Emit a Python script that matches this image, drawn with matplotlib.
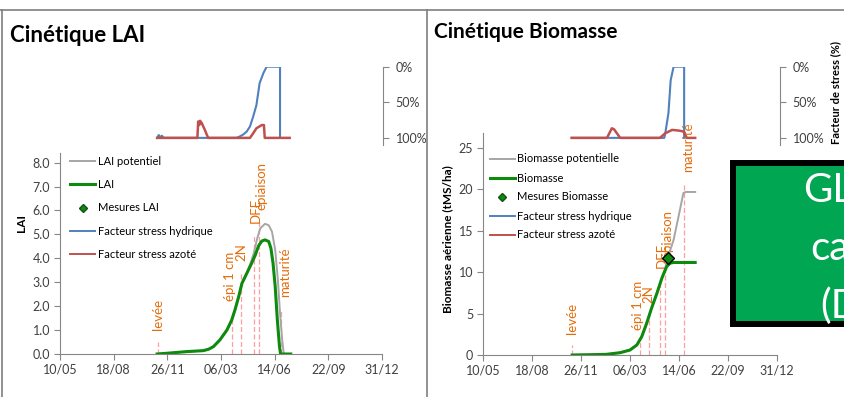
import matplotlib.pyplot as plt
from matplotlib.lines import Line2D
from matplotlib.patches import Rectangle

W, H = 845, 397

plt.rcParams['font.family'] = ['Lato', 'DejaVu Sans']

GRAY = "#A6A6A6"
GREEN = "#0E8A0E"
BLUE = "#4F81BD"
RED = "#C0504D"
ORANGE = "#E46C0A"
PINK = "#FF9E9E"
AXIS_GRAY = "#868686"
TEXT_GRAY = "#404040"

# x axis: days counted from 10/05 of the sowing year
date_ticks = [0, 100, 200, 300, 400, 500, 600]
date_labels = ["10/05", "18/08", "26/11", "06/03", "14/06", "22/09", "31/12"]

# phenological stages (day, and height of the marker line in each panel)
stage_names = ["levée", "épi 1 cm", "2N", "DFE", "épiaison", "maturité"]
stage_days = [182, 320, 338, 362, 371, 411]
stage_top_lai = [0.52, 1.7, 3.37, 4.97, 5.5, 1.9]
stage_top_bio = [1.15, 1.6, 4.8, 9.05, 10.25, 20.6]

# LAI
lai_days = [181, 199, 236, 267, 277, 286, 298, 311, 320, 326, 333, 339, 348,
            357, 364, 370, 376, 382, 389, 393, 397, 401, 405, 409, 411, 430]
lai = [0, 0.03, 0.10, 0.14, 0.20, 0.31, 0.59, 1.00, 1.42, 1.84, 2.40, 2.95, 3.37,
       3.79, 4.14, 4.52, 4.72, 4.77, 4.70, 4.42, 3.79, 2.82, 1.42, 0.31, 0, 0]
lai_pot_days = [181, 199, 236, 267, 277, 286, 298, 311, 320, 326, 333, 339, 348,
                354, 361, 367, 373, 382, 389, 395, 401, 406, 410, 414, 417, 430]
lai_pot = [0, 0.03, 0.10, 0.14, 0.20, 0.31, 0.59, 1.00, 1.42, 1.84, 2.40, 2.95, 3.37,
           3.72, 4.21, 4.79, 5.25, 5.44, 5.38, 5.11, 4.35, 3.09, 1.70, 0.59, 0, 0]

# aerial biomass (tMS/ha)
bio_days = [182, 225, 252, 280, 300, 314, 324, 334, 344, 355, 365, 375, 382, 389, 433]
bio = [0, 0.04, 0.08, 0.28, 0.60, 1.21, 2.22, 3.83, 5.65, 7.46, 9.27, 10.69, 11.09,
       11.17, 11.17]
bio_pot_days = [182, 225, 252, 280, 300, 314, 324, 334, 344, 355, 365, 371, 378,
                389, 399, 409, 414, 433]
bio_pot = [0, 0.04, 0.08, 0.28, 0.60, 1.21, 2.22, 3.83, 5.65, 7.46, 9.27, 10.3, 11.9,
           13.9, 16.7, 19.56, 19.68, 19.68]
bio_meas_days = [378]
bio_meas = [11.7]

# stress factors in % (100 % = no stress)
water_days_lai = [181, 184, 187, 190, 193, 329, 335, 342, 348, 354, 360, 366, 372,
                  379, 385, 410, 410]
water_lai = [100, 96, 99, 97, 100, 100, 98, 95, 91, 84, 70, 54, 23, 9, 0, 0, 100]
nitro_days_lai = [181, 256, 257.5, 259.5, 261, 264, 270, 276, 354, 360, 366, 376,
                  380, 381.5, 428]
nitro_lai = [100, 100, 77, 82, 76, 79, 89, 100, 100, 93.5, 86.5, 82, 82, 100, 100]

water_days_bio = [181, 370, 372, 378.5, 383, 389, 410.5, 410.5]
water_bio = [100, 100, 93.5, 65, 19, 0, 0, 100]
nitro_days_bio = [181, 253, 263, 267.5, 280, 361, 372, 386, 399, 409, 416, 433]
nitro_bio = [100, 100, 86.5, 88, 100, 100, 93.5, 88.8, 89.7, 91, 100, 100]

fig = plt.figure(figsize=(W / 100, H / 100), dpi=100)


def px_axes(x0, y0, x1, y1, **kw):
    """Axes placed from pixel edges (origin top-left)."""
    return fig.add_axes([x0 / W, 1 - y1 / H, (x1 - x0) / W, (y1 - y0) / H], **kw)


def style_main(ax, ymax, yticks, ylabels):
    ax.set_xlim(0, 600)
    ax.set_ylim(0, ymax)
    ax.set_xticks(date_ticks)
    ax.set_xticklabels(date_labels)
    ax.set_yticks(yticks)
    ax.set_yticklabels(ylabels)
    for side in ("top", "right"):
        ax.spines[side].set_visible(False)
    for side in ("left", "bottom"):
        ax.spines[side].set_color(AXIS_GRAY)
        ax.spines[side].set_linewidth(0.8)
    ax.tick_params(length=4, width=0.8, color=AXIS_GRAY, labelsize=9,
                   labelcolor=TEXT_GRAY, pad=3)
    ax.patch.set_alpha(0)


def draw_stages(ax, tops):
    # small sideways nudges keep the labels readable where they crowd
    nudges = [0, -1, 0, 1, 2, 3]
    for name, day, top, dx in zip(stage_names, stage_days, tops, nudges):
        ax.plot([day, day], [0, top], ls=(0, (4, 2)), color=PINK, lw=0.9, zorder=1)
        ax.annotate(name, (day, top), xytext=(dx, 8.6), textcoords="offset points",
                    rotation=90, ha="center", va="bottom", color=ORANGE,
                    fontsize=9.5, annotation_clip=False)


def stress_axes(x0, x1, main_width, days_w, water, days_n, nitro):
    ax = px_axes(x0, 66.7, x1, 145)
    ax.set_xlim(0, 600 * (x1 - x0) / main_width)
    ax.set_ylim(110, 0)
    ax.plot(days_w, water, color=BLUE, lw=1.5)
    ax.plot(days_n, nitro, color=RED, lw=1.8)
    for side in ("top", "left", "bottom"):
        ax.spines[side].set_visible(False)
    ax.spines["right"].set_color(AXIS_GRAY)
    ax.spines["right"].set_linewidth(0.8)
    ax.spines["right"].set_bounds(0, 110)
    ax.yaxis.tick_right()
    ax.set_yticks([0, 50, 100])
    ax.set_yticklabels(["0%", "50%", "100%"])
    ax.set_xticks([])
    ax.tick_params(axis="y", length=4, width=0.8, color=AXIS_GRAY, labelsize=9,
                   labelcolor=TEXT_GRAY, pad=5)
    ax.patch.set_alpha(0)
    return ax


def legend_handles(curve_pot, curve, meas):
    return [
        Line2D([], [], color=GRAY, lw=1.4, label=curve_pot),
        Line2D([], [], color=GREEN, lw=2.2, label=curve),
        Line2D([], [], ls="none", marker="D", ms=4, mfc=GREEN, mec="#145214",
               label=meas),
        Line2D([], [], color=BLUE, lw=1.4, label="Facteur stress hydrique"),
        Line2D([], [], color=RED, lw=1.4, label="Facteur stress azoté"),
    ]


# ---- LAI panel ----
ax_lai = px_axes(60, 153, 382, 354)
style_main(ax_lai, 8.4, range(9), [f"{v:.1f}" for v in range(9)])
draw_stages(ax_lai, stage_top_lai)
ax_lai.plot(lai_pot_days, lai_pot, color=GRAY, lw=1.4, zorder=3)
ax_lai.plot(lai_days, lai, color=GREEN, lw=2.2, zorder=4)
ax_lai.legend(handles=legend_handles("LAI potentiel", "LAI", "Mesures LAI"),
              loc="upper left", bbox_to_anchor=(70 / W, 1 - 156 / H),
              bbox_transform=fig.transFigure, frameon=False, borderpad=0,
              borderaxespad=0, handlelength=2.25, handletextpad=0.3,
              labelspacing=1.1, prop={"size": 8})
stress_axes(60, 383, 322, water_days_lai, water_lai, nitro_days_lai, nitro_lai)
fig.text(10 / W, 1 - 42.5 / H, "Cinétique LAI", fontsize=16, fontweight="bold",
         va="baseline")
fig.text(22 / W, 1 - 223 / H, "LAI", rotation=90, fontsize=8.5, fontweight="bold",
         ha="center", va="center")

# white sheet hides what spills over from the left panel
cover = px_axes(428, 11, 845, 397)
cover.set_axis_off()
cover.add_patch(Rectangle((0, 0), 1, 1, transform=cover.transAxes, color="white"))

# ---- biomass panel ----
ax_bio = px_axes(483, 133, 777, 355)
style_main(ax_bio, 26.8, range(0, 26, 5), [str(v) for v in range(0, 26, 5)])
draw_stages(ax_bio, stage_top_bio)
ax_bio.plot(bio_pot_days, bio_pot, color=GRAY, lw=1.4, zorder=3)
ax_bio.plot(bio_days, bio, color=GREEN, lw=2.2, zorder=4)
ax_bio.plot(bio_meas_days, bio_meas, ls="none", marker="D", ms=6.5, mfc=GREEN,
            mec="black", mew=1, zorder=5)
ax_bio.legend(handles=legend_handles("Biomasse potentielle", "Biomasse",
                                     "Mesures Biomasse"),
              loc="upper left", bbox_to_anchor=(490 / W, 1 - 153.5 / H),
              bbox_transform=fig.transFigure, frameon=False, borderpad=0,
              borderaxespad=0, handlelength=2.25, handletextpad=0.2,
              labelspacing=0.72, prop={"size": 8})
stress_axes(483, 780, 294, water_days_bio, water_bio, nitro_days_bio, nitro_bio)
fig.text(434 / W, 1 - 38.5 / H, "Cinétique Biomasse", fontsize=15,
         fontweight="bold", va="baseline")
fig.text(448 / W, 1 - 239 / H, "Biomasse aérienne (tMS/ha)", rotation=90,
         fontsize=8.5, fontweight="bold", ha="center", va="center")
fig.text(836 / W, 1 - 92 / H, "Facteur de stress (%)", rotation=90, fontsize=8,
         fontweight="bold", ha="center", va="center")

# panel frame
for xs, ys in [([0, W], [10, 10]), ([2, 2], [10, H]), ([427, 427], [10, H])]:
    fig.add_artist(Line2D([x / W for x in xs], [1 - y / H for y in ys],
                          color="#7F7F7F", lw=1.2, transform=fig.transFigure))

# green banner on the right
fig.add_artist(Rectangle((733 / W, 1 - 323.5 / H), (870 - 733) / W, 160 / H,
                         transform=fig.transFigure, facecolor="#00A651",
                         edgecolor="black", lw=4.3, zorder=5))
for txt, x, y in [("GL", 803, 202), ("ca", 810, 260), ("(D", 820, 318)]:
    fig.text(x / W, 1 - y / H, txt, color="white", fontsize=29, va="baseline",
             ha="left", zorder=6)

fig.savefig("out.png", dpi=100)
